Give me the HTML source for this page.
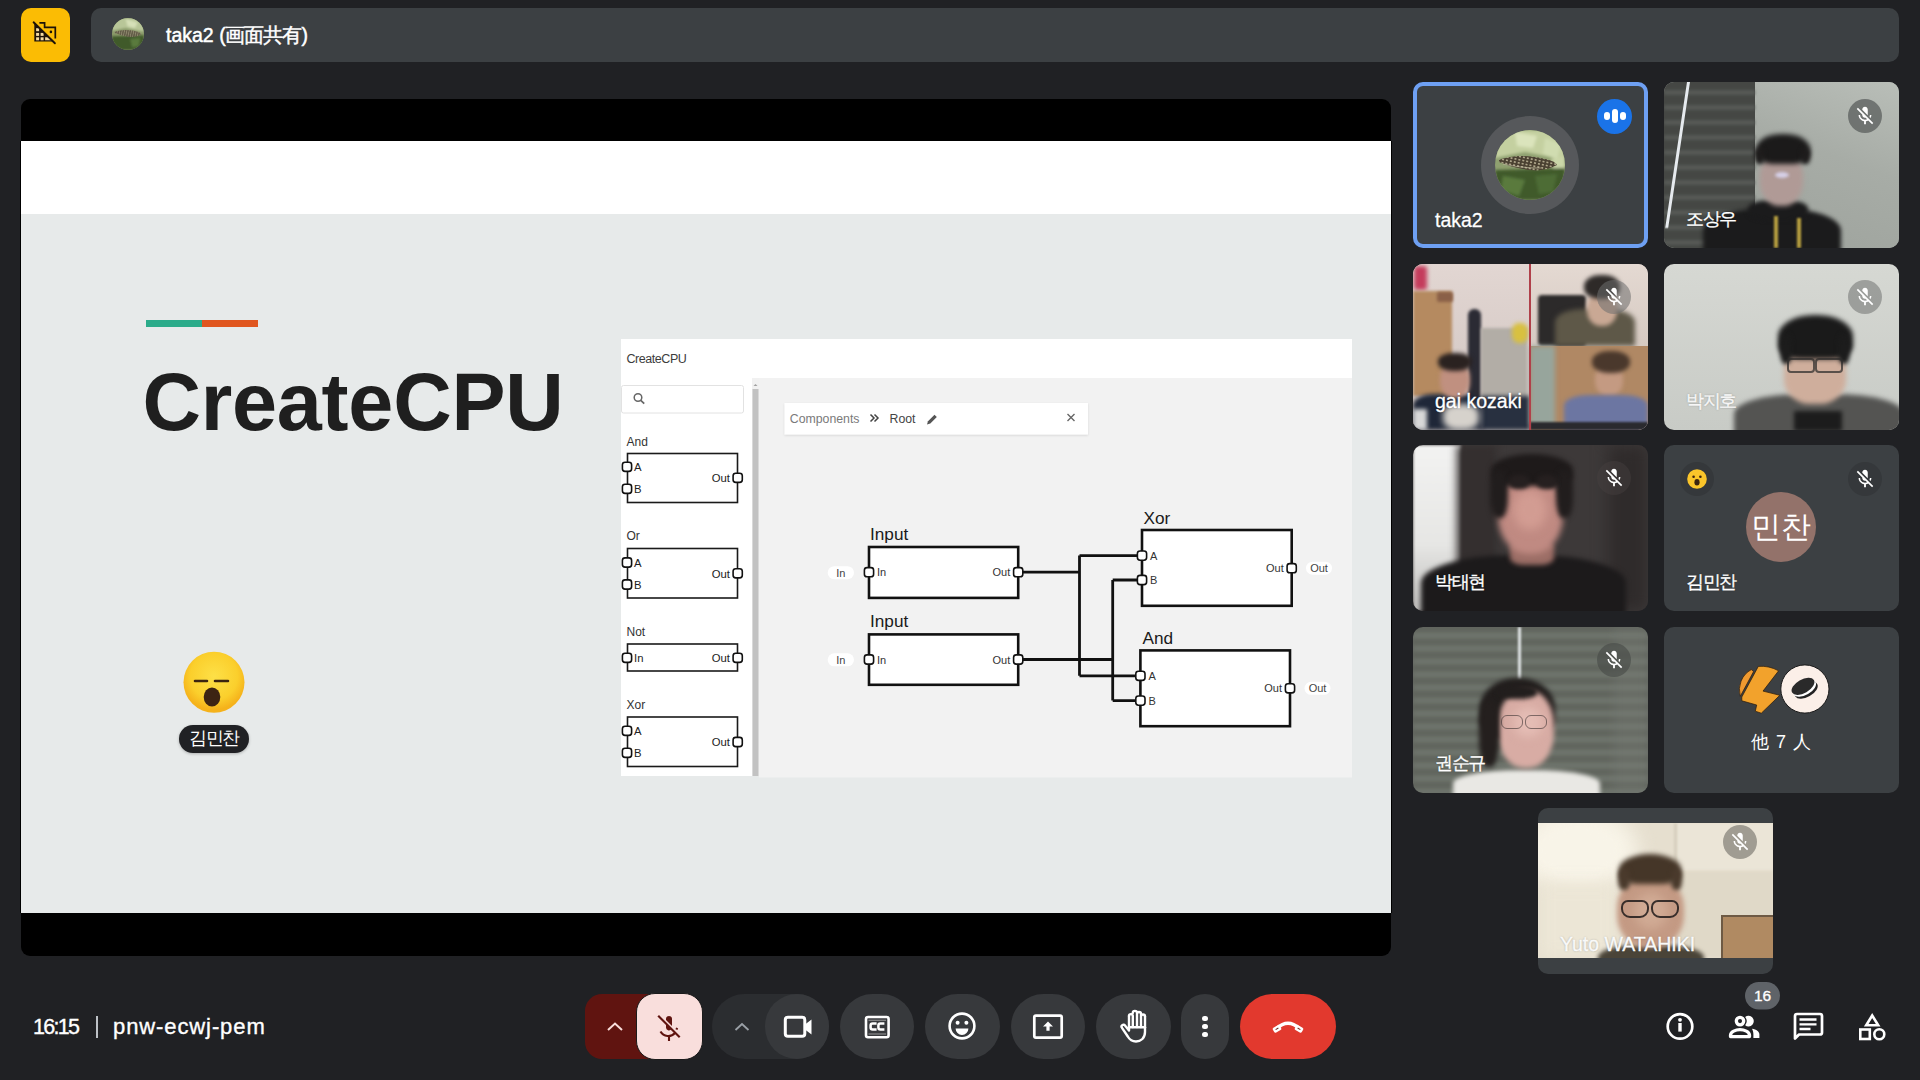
<!DOCTYPE html><html><head><meta charset="utf-8"><style>
*{margin:0;padding:0;box-sizing:border-box}
html,body{width:1920px;height:1080px;overflow:hidden;background:#202124;font-family:"Liberation Sans",sans-serif;color:#fff}
.a{position:absolute}
.tile{position:absolute;width:235px;height:166px;border-radius:10px;overflow:hidden;background:#3c4043}
.bl{position:absolute;border-radius:50%}
.nm{position:absolute;font-size:19.5px;line-height:19.5px;color:#fff;white-space:nowrap;-webkit-text-stroke:0.3px #fff;text-shadow:0 0 2px rgba(0,0,0,.35)}
.mo{position:absolute;width:34px;height:34px;border-radius:50%}
.btn{position:absolute;top:994px;height:65px;border-radius:33px;background:#3c4043}
</style></head><body>
<div class="a" style="left:21px;top:8px;width:49px;height:54px;background:#fbbc04;border-radius:10px"></div>
<svg class="a" style="left:25px;top:13px" width="40" height="40" viewBox="25 13 40 40">
<path d="M34.3 23.2L53.3 41.6H34.3z" fill="#1d1308"/>
<g fill="#f3d9a0"><rect x="36.1" y="28.2" width="3" height="3"/><rect x="36.1" y="32.9" width="3" height="3"/><rect x="40.6" y="32.9" width="3" height="3"/><rect x="36.1" y="37.3" width="3" height="3"/><rect x="40.6" y="37.3" width="3" height="3"/><path d="M45.1 37.3h3.2l3 3h-6.2z"/></g>
<path d="M39.4 22.9H44.6V27.4H55.3V38.5" fill="none" stroke="#1d1308" stroke-width="1.7"/>
<circle cx="50.9" cy="31.9" r="1.3" fill="#1d1308"/>
<path d="M34.6 22.4L36 21" stroke="#1d1308" stroke-width="0"/>
<path d="M35.6 21.6L56.6 42.6" stroke="#fbbc04" stroke-width="1.6"/>
<path d="M33.6 22.3L54.9 43.3" stroke="#1d1308" stroke-width="1.9" stroke-linecap="round"/>
</svg>
<div class="a" style="left:91px;top:8px;width:1808px;height:54px;background:#3c4043;border-radius:10px"></div>
<svg class="a" style="left:112px;top:18px" width="32" height="32" viewBox="0 0 70 70">
<defs><clipPath id="avc2"><circle cx="35" cy="35" r="35"/></clipPath>
<pattern id="spots2" width="5" height="4" patternUnits="userSpaceOnUse" patternTransform="rotate(12)"><rect width="5" height="4" fill="#5a5040"/><circle cx="2.5" cy="2" r="1.1" fill="#d8d0b0"/></pattern>
<filter id="bl3"><feGaussianBlur stdDeviation="2.5"/></filter></defs>
<g clip-path="url(#avc2)">
<rect width="70" height="70" fill="#8a9a6a"/>
<g filter="url(#bl3)">
<path d="M0 0H70V30L50 26 30 22 0 28z" fill="#b8c698"/>
<path d="M30 2L56 10 50 22 34 18z" fill="#d6e0b8"/>
<path d="M0 40L70 38V70H0z" fill="#405a2c"/>
<path d="M40 46L62 44 58 62 44 64z" fill="#5a7a3e"/>
</g>
<path d="M6 30Q22 24 42 27T64 36Q50 44 34 41T6 33z" fill="url(#spots2)" opacity=".85"/>
</g></svg>
<div class="a" style="left:166px;top:25.5px;font-size:19.5px;line-height:19px;-webkit-text-stroke:0.45px #fff;white-space:nowrap">taka2 <span style="letter-spacing:-0.8px">(画面共有)</span></div>

<div class="a" style="left:21px;top:99px;width:1370px;height:857px;border-radius:9px;overflow:hidden;background:#000">
  <div class="a" style="left:0;top:42px;width:1370px;height:73px;background:#fff"></div>
  <div class="a" style="left:0;top:115px;width:1370px;height:699px;background:#e7eaea"></div>
</div>
<div class="a" style="left:20px;top:141px;width:1px;height:772px;background:#000"></div>
<div class="a" style="left:1391px;top:141px;width:1px;height:772px;background:#000"></div>
<div class="a" style="left:146px;top:320px;width:56px;height:7px;background:#2bab8a"></div>
<div class="a" style="left:202px;top:320px;width:56px;height:7px;background:#e0561f"></div>
<div class="a" id="title" style="left:142.5px;top:362px;font-size:81px;line-height:81px;font-weight:bold;color:#1f1f1f;letter-spacing:-0.25px;white-space:nowrap">CreateCPU</div>

<svg class="a" style="left:180px;top:649px" width="68" height="68" viewBox="180 649 68 68">
<defs><radialGradient id="eg" cx="50%" cy="40%" r="55%"><stop offset="0" stop-color="#fde047"/><stop offset=".7" stop-color="#fbcf2c"/><stop offset="1" stop-color="#f5b21b"/></radialGradient></defs>
<circle cx="214" cy="682.3" r="30.5" fill="url(#eg)"/>
<path d="M195 681h12M215 681h13" stroke="#3b2410" stroke-width="2.6" stroke-linecap="round"/>
<ellipse cx="212" cy="697" rx="8.3" ry="9.5" fill="#3d2413"/>
</svg>
<div class="a" style="left:179px;top:725px;width:70px;height:28px;border-radius:14px;background:#202124;box-shadow:0 1px 3px rgba(0,0,0,.25)"></div>
<div class="a" style="left:179px;top:729px;width:70px;text-align:center;font-size:17px;line-height:19px;color:#fff;font-size:17.5px;letter-spacing:-1.4px">김민찬</div>

<svg class="a" style="left:600px;top:330px" width="780" height="460" viewBox="600 330 780 460" font-family="Liberation Sans, sans-serif">
<defs><filter id="sh" x="-5%" y="-30%" width="110%" height="160%"><feDropShadow dx="0" dy="1" stdDeviation="1.2" flood-color="#000" flood-opacity=".12"/></filter></defs>
<rect x="621" y="339" width="731" height="39" fill="#fff"/>
<text x="626.5" y="363" font-size="12.5" fill="#3c3c3c" letter-spacing="-0.45">CreateCPU</text>
<rect x="621" y="378" width="131" height="398" fill="#fff"/>
<rect x="752" y="378" width="7" height="398" fill="#f1f1f1"/>
<rect x="752.5" y="389" width="6" height="387" fill="#c2c2c2"/>
<path d="M753.5 386l2-2 2 2z" fill="#a0a0a0"/>
<rect x="759" y="378" width="593" height="399.5" fill="#f2f2f2"/>
<rect x="621.5" y="385.5" width="122" height="27.5" rx="2" fill="#fff" stroke="#e2e2e2"/>
<circle cx="638" cy="397.5" r="3.8" fill="none" stroke="#666" stroke-width="1.5"/><path d="M640.8 400.3l3.4 3.4" stroke="#666" stroke-width="1.7"/>
<text x="626.5" y="445.5" font-size="12" fill="#333">And</text>
<rect x="627.5" y="453.5" width="110" height="49.0" fill="#fff" stroke="#1a1a1a" stroke-width="1.6"/>
<rect x="622.4" y="462.2" width="9.2" height="9.2" rx="2.6" fill="#fff" stroke="#111" stroke-width="1.6"/>
<text x="634" y="471.1" font-size="11.3" fill="#222">A</text>
<rect x="622.4" y="484.2" width="9.2" height="9.2" rx="2.6" fill="#fff" stroke="#111" stroke-width="1.6"/>
<text x="634" y="493.1" font-size="11.3" fill="#222">B</text>
<rect x="733.1" y="473.2" width="9.2" height="9.2" rx="2.6" fill="#fff" stroke="#111" stroke-width="1.6"/>
<text x="730" y="482.1" font-size="11.3" fill="#222" text-anchor="end">Out</text>
<text x="626.5" y="540.3" font-size="12" fill="#333">Or</text>
<rect x="627.5" y="548.5" width="110" height="49.5" fill="#fff" stroke="#1a1a1a" stroke-width="1.6"/>
<rect x="622.4" y="557.9" width="9.2" height="9.2" rx="2.6" fill="#fff" stroke="#111" stroke-width="1.6"/>
<text x="634" y="566.8" font-size="11.3" fill="#222">A</text>
<rect x="622.4" y="579.9" width="9.2" height="9.2" rx="2.6" fill="#fff" stroke="#111" stroke-width="1.6"/>
<text x="634" y="588.8" font-size="11.3" fill="#222">B</text>
<rect x="733.1" y="568.7" width="9.2" height="9.2" rx="2.6" fill="#fff" stroke="#111" stroke-width="1.6"/>
<text x="730" y="577.6" font-size="11.3" fill="#222" text-anchor="end">Out</text>
<text x="626.5" y="635.7" font-size="12" fill="#333">Not</text>
<rect x="627.5" y="644" width="110" height="27" fill="#fff" stroke="#1a1a1a" stroke-width="1.6"/>
<rect x="622.4" y="653.2" width="9.2" height="9.2" rx="2.6" fill="#fff" stroke="#111" stroke-width="1.6"/>
<text x="634" y="662.1" font-size="11.3" fill="#222">In</text>
<rect x="733.1" y="653.2" width="9.2" height="9.2" rx="2.6" fill="#fff" stroke="#111" stroke-width="1.6"/>
<text x="730" y="662.1" font-size="11.3" fill="#222" text-anchor="end">Out</text>
<text x="626.5" y="709" font-size="12" fill="#333">Xor</text>
<rect x="627.5" y="717" width="110" height="49.5" fill="#fff" stroke="#1a1a1a" stroke-width="1.6"/>
<rect x="622.4" y="726.2" width="9.2" height="9.2" rx="2.6" fill="#fff" stroke="#111" stroke-width="1.6"/>
<text x="634" y="735.1" font-size="11.3" fill="#222">A</text>
<rect x="622.4" y="748.2" width="9.2" height="9.2" rx="2.6" fill="#fff" stroke="#111" stroke-width="1.6"/>
<text x="634" y="757.1" font-size="11.3" fill="#222">B</text>
<rect x="733.1" y="737.4" width="9.2" height="9.2" rx="2.6" fill="#fff" stroke="#111" stroke-width="1.6"/>
<text x="730" y="746.3" font-size="11.3" fill="#222" text-anchor="end">Out</text>
<rect x="784.5" y="403" width="303.5" height="31.5" fill="#fff" filter="url(#sh)"/>
<text x="789.8" y="423.3" font-size="12.3" fill="#7a7a7a">Components</text>
<path d="M870.5 414.5l3.5 3.5-3.5 3.5M874.5 414.5l3.5 3.5-3.5 3.5" stroke="#444" stroke-width="1.5" fill="none"/>
<text x="889.5" y="423.3" font-size="12.3" fill="#444">Root</text>
<path d="M927 424.5l1-3.3 6.5-6.5 2.3 2.3-6.5 6.5z" fill="#555"/>
<path d="M1067.5 414l7 7M1074.5 414l-7 7" stroke="#666" stroke-width="1.4"/>
<path d="M1018 572.2H1079.5M1079.5 555.6V675.8M1079.5 555.6H1142M1079.5 675.8H1140.4" stroke="#111" stroke-width="2.8" fill="none"/>
<path d="M1018 659.5H1112.7M1112.7 580V700.6M1112.7 580H1142M1112.7 700.6H1140.4" stroke="#111" stroke-width="2.8" fill="none"/>
<rect x="827.7" y="566.2" width="26.299999999999955" height="13" rx="6.5" fill="#fff"/>
<text x="840.85" y="576.7" font-size="11" fill="#444" text-anchor="middle">In</text>
<rect x="827.7" y="653.3" width="26.299999999999955" height="13" rx="6.5" fill="#fff"/>
<text x="840.85" y="663.8" font-size="11" fill="#444" text-anchor="middle">In</text>
<text x="870" y="540.2" font-size="17.2" fill="#1a1a1a">Input</text>
<rect x="869" y="547" width="149.20000000000005" height="50.89999999999998" fill="#fff" stroke="#111" stroke-width="2.6"/>
<rect x="864.4" y="567.6" width="9.2" height="9.2" rx="2.6" fill="#fff" stroke="#111" stroke-width="1.6"/>
<text x="877" y="576.2" font-size="11" fill="#333">In</text>
<rect x="1013.6" y="567.6" width="9.2" height="9.2" rx="2.6" fill="#fff" stroke="#111" stroke-width="1.6"/>
<text x="1010.2" y="576.2" font-size="11" fill="#333" text-anchor="end">Out</text>
<text x="870" y="627" font-size="17.2" fill="#1a1a1a">Input</text>
<rect x="869" y="634.4" width="149.20000000000005" height="50.39999999999998" fill="#fff" stroke="#111" stroke-width="2.6"/>
<rect x="864.4" y="654.9" width="9.2" height="9.2" rx="2.6" fill="#fff" stroke="#111" stroke-width="1.6"/>
<text x="877" y="663.5" font-size="11" fill="#333">In</text>
<rect x="1013.6" y="654.9" width="9.2" height="9.2" rx="2.6" fill="#fff" stroke="#111" stroke-width="1.6"/>
<text x="1010.2" y="663.5" font-size="11" fill="#333" text-anchor="end">Out</text>
<text x="1143.5" y="523.5" font-size="17.2" fill="#1a1a1a">Xor</text>
<rect x="1142" y="530" width="149.70000000000005" height="75.79999999999995" fill="#fff" stroke="#111" stroke-width="2.6"/>
<rect x="1137.4" y="551.0" width="9.2" height="9.2" rx="2.6" fill="#fff" stroke="#111" stroke-width="1.6"/>
<text x="1150" y="559.6" font-size="11" fill="#333">A</text>
<rect x="1137.4" y="575.4" width="9.2" height="9.2" rx="2.6" fill="#fff" stroke="#111" stroke-width="1.6"/>
<text x="1150" y="584" font-size="11" fill="#333">B</text>
<rect x="1287.1" y="563.6" width="9.2" height="9.2" rx="2.6" fill="#fff" stroke="#111" stroke-width="1.6"/>
<text x="1283.7" y="572.2" font-size="11" fill="#333" text-anchor="end">Out</text>
<text x="1142.5" y="643.7" font-size="17.2" fill="#1a1a1a">And</text>
<rect x="1140.4" y="650.4" width="149.5999999999999" height="75.80000000000007" fill="#fff" stroke="#111" stroke-width="2.6"/>
<rect x="1135.8" y="671.2" width="9.2" height="9.2" rx="2.6" fill="#fff" stroke="#111" stroke-width="1.6"/>
<text x="1148.4" y="679.8" font-size="11" fill="#333">A</text>
<rect x="1135.8" y="696.0" width="9.2" height="9.2" rx="2.6" fill="#fff" stroke="#111" stroke-width="1.6"/>
<text x="1148.4" y="704.6" font-size="11" fill="#333">B</text>
<rect x="1285.4" y="683.7" width="9.2" height="9.2" rx="2.6" fill="#fff" stroke="#111" stroke-width="1.6"/>
<text x="1282" y="692.3" font-size="11" fill="#333" text-anchor="end">Out</text>
<rect x="1306" y="561.7" width="26" height="13" rx="6.5" fill="#fff"/>
<text x="1319.0" y="572.2" font-size="11" fill="#444" text-anchor="middle">Out</text>
<rect x="1304.5" y="681.8" width="26.0" height="13" rx="6.5" fill="#fff"/>
<text x="1317.5" y="692.3" font-size="11" fill="#444" text-anchor="middle">Out</text>
</svg>
<div class="tile" style="left:1413px;top:82px;border:4px solid #6ea0f3;"></div>
<div class="a" style="left:1481px;top:116px;width:98px;height:98px;border-radius:50%;background:#56585b"></div>
<svg class="a" style="left:1495px;top:130px" width="70" height="70" viewBox="0 0 70 70">
<defs><clipPath id="avc"><circle cx="35" cy="35" r="35"/></clipPath>
<pattern id="spots" width="4" height="3.2" patternUnits="userSpaceOnUse" patternTransform="rotate(12)"><rect width="4" height="3.2" fill="#4a4030"/><circle cx="2" cy="1.6" r="0.9" fill="#d8d0b0"/></pattern>
<filter id="bl1"><feGaussianBlur stdDeviation="1.6"/></filter><filter id="bl2"><feGaussianBlur stdDeviation=".5"/></filter></defs>
<g clip-path="url(#avc)">
<rect width="70" height="70" fill="#8fa070"/>
<g filter="url(#bl1)">
<path d="M0 0H70V30L50 26 30 22 0 28z" fill="#c4d0a0"/>
<path d="M20 2L42 6 38 18 22 16z" fill="#dbe4bc"/>
<path d="M50 8L66 14 62 30 48 24z" fill="#d0dcb0"/>
<path d="M55 30L70 26V44L60 42z" fill="#cad6a8"/>
<path d="M0 40L70 38V70H0z" fill="#3f5a2c"/>
<path d="M8 46L30 50 24 66 6 60z" fill="#5a7a3e"/>
<path d="M40 46L62 44 58 62 44 64z" fill="#4d6c34"/>
</g>
<g filter="url(#bl2)">
<path d="M4 30Q20 24 40 27T62 35Q50 42 34 40T4 32z" fill="url(#spots)"/>
<path d="M8 34Q26 38 46 38" stroke="#c8c4a8" stroke-width="1.2" fill="none" opacity=".6"/>
</g>
</g></svg>
<div class="a" style="left:1597px;top:99px;width:35px;height:35px;border-radius:50%;background:#1a73e8"></div>
<div class="a" style="left:1604px;top:112px;width:6px;height:8px;border-radius:3px;background:#fff"></div>
<div class="a" style="left:1612px;top:109px;width:6px;height:14px;border-radius:3px;background:#fff"></div>
<div class="a" style="left:1620px;top:112px;width:6px;height:8px;border-radius:3px;background:#fff"></div>
<div class="nm" style="left:1435px;top:210.7px">taka2</div>
<div class="tile" style="left:1664px;top:82px;background:#a6aba5"><div class="a" style="left:0px;top:0px;width:91px;height:166px;background:#454744;border-radius:0;"></div><div class="a" style="left:91px;top:0px;width:144px;height:166px;background:linear-gradient(200deg,#b9beb8 0%,#a7aca6 45%,#9ea39d 100%);border-radius:0;"></div><div class="a" style="left:0px;top:8px;width:91px;height:5px;background:rgba(92,96,92,.75);border-radius:0;filter:blur(1.5px);"></div><div class="a" style="left:0px;top:23px;width:91px;height:5px;background:rgba(92,96,92,.75);border-radius:0;filter:blur(1.5px);"></div><div class="a" style="left:0px;top:38px;width:91px;height:5px;background:rgba(92,96,92,.75);border-radius:0;filter:blur(1.5px);"></div><div class="a" style="left:0px;top:53px;width:91px;height:5px;background:rgba(92,96,92,.75);border-radius:0;filter:blur(1.5px);"></div><div class="a" style="left:0px;top:68px;width:91px;height:5px;background:rgba(92,96,92,.75);border-radius:0;filter:blur(1.5px);"></div><div class="a" style="left:0px;top:83px;width:91px;height:5px;background:rgba(92,96,92,.75);border-radius:0;filter:blur(1.5px);"></div><div class="a" style="left:0px;top:98px;width:91px;height:5px;background:rgba(92,96,92,.75);border-radius:0;filter:blur(1.5px);"></div><div class="a" style="left:0px;top:113px;width:91px;height:5px;background:rgba(92,96,92,.75);border-radius:0;filter:blur(1.5px);"></div><div class="a" style="left:0px;top:128px;width:91px;height:5px;background:rgba(92,96,92,.75);border-radius:0;filter:blur(1.5px);"></div><div class="a" style="left:0px;top:143px;width:91px;height:5px;background:rgba(92,96,92,.75);border-radius:0;filter:blur(1.5px);"></div><div class="a" style="left:0px;top:158px;width:91px;height:5px;background:rgba(92,96,92,.75);border-radius:0;filter:blur(1.5px);"></div><div class="a" style="left:23px;top:0;width:2.5px;height:146px;background:#e6eaee;transform:skewX(-8.5deg);transform-origin:top left;filter:blur(.4px)"></div><div class="a" style="left:39px;top:126px;width:138px;height:50px;background:#1b1b1c;border-radius:45% 45% 0 0;filter:blur(2px);"></div><div class="a" style="left:84px;top:118px;width:60px;height:20px;background:#1b1b1c;border-radius:40%;filter:blur(2px);"></div><div class="a" style="left:96px;top:70px;width:43px;height:54px;background:#b09a96;border-radius:45%;filter:blur(2.5px);"></div><div class="a" style="left:92px;top:52px;width:54px;height:30px;background:#1b1a1a;border-radius:48% 48% 35% 35%;filter:blur(2.5px);"></div><div class="a" style="left:91px;top:66px;width:9px;height:16px;background:#1e1c1c;border-radius:40%;filter:blur(2px);"></div><div class="a" style="left:137px;top:66px;width:9px;height:16px;background:#1e1c1c;border-radius:40%;filter:blur(2px);"></div><div class="a" style="left:111px;top:90px;width:14px;height:6px;background:#d6d0e8;border-radius:50%;filter:blur(1.5px);"></div><div class="a" style="left:110px;top:134px;width:4px;height:32px;background:#b8a040;border-radius:0;filter:blur(1px);"></div><div class="a" style="left:133px;top:136px;width:4px;height:30px;background:#b8a040;border-radius:0;filter:blur(1px);"></div></div>
<div class="nm" style="left:1686px;top:209.7px;color:#fff;font-size:17.5px;letter-spacing:-1.4px">조상우</div>
<div class="mo" style="left:1848px;top:99px;background:rgba(90,94,92,.75)"></div><svg class="a" style="left:1854px;top:105px" width="22" height="22" viewBox="0 0 24 24"><path fill="#fff" d="M19 11h-1.7c0 .74-.16 1.43-.43 2.05l1.23 1.23c.56-.98.9-2.09.9-3.28zm-4.02.17c0-.06.02-.11.02-.17V5c0-1.66-1.34-3-3-3S9 3.34 9 5v.18l5.98 5.99zM4.27 3L3 4.27l6.01 6.01V11c0 1.66 1.33 3 2.99 3 .22 0 .44-.03.65-.08l1.66 1.66c-.71.33-1.5.52-2.31.52-2.76 0-5.3-2.1-5.3-5.1H5c0 3.41 2.72 6.23 6 6.72V21h2v-3.28c.91-.13 1.77-.45 2.54-.9L19.73 21 21 19.73 4.27 3z"/></svg>
<div class="tile" style="left:1413px;top:264px;background:#d8ccc6"><div class="a" style="left:0px;top:0px;width:117px;height:166px;background:linear-gradient(180deg,#e2d6d2,#cfc4c0);border-radius:0;"></div><div class="a" style="left:1px;top:2px;width:13px;height:24px;background:#c43c5c;border-radius:3px;filter:blur(2px);"></div><div class="a" style="left:0px;top:27px;width:39px;height:105px;background:#b58a60;border-radius:0;filter:blur(1.5px);"></div><div class="a" style="left:24px;top:28px;width:16px;height:10px;background:#8a6048;border-radius:2px;filter:blur(1.5px);"></div><div class="a" style="left:55px;top:45px;width:13px;height:95px;background:#2b2b34;border-radius:6px;filter:blur(1.5px);"></div><div class="a" style="left:68px;top:64px;width:46px;height:70px;background:#b2ada6;border-radius:0;filter:blur(1.5px);"></div><div class="a" style="left:99px;top:59px;width:16px;height:20px;background:#d8c040;border-radius:40%;filter:blur(2px);"></div><div class="a" style="left:68px;top:132px;width:49px;height:34px;background:#283040;border-radius:0;filter:blur(2px);"></div><div class="a" style="left:0px;top:130px;width:70px;height:36px;background:#1f2738;border-radius:30% 30% 0 0;filter:blur(2px);"></div><div class="a" style="left:27px;top:98px;width:30px;height:36px;background:#c09080;border-radius:45%;filter:blur(2px);"></div><div class="a" style="left:25px;top:89px;width:34px;height:18px;background:#2a2220;border-radius:45%;filter:blur(2px);"></div><div class="a" style="left:0px;top:145px;width:14px;height:21px;background:#d8d8d8;border-radius:0;filter:blur(2px);"></div><div class="a" style="left:30px;top:140px;width:36px;height:26px;background:#d6d2cc;border-radius:40%;filter:blur(3px);"></div><div class="a" style="left:117px;top:0px;width:118px;height:82px;background:linear-gradient(180deg,#e4d9d2,#d6cac2);border-radius:0;"></div><div class="a" style="left:125px;top:31px;width:48px;height:51px;background:#2c2a2a;border-radius:4px;filter:blur(1.5px);"></div><div class="a" style="left:142px;top:45px;width:80px;height:37px;background:#5e5848;border-radius:35% 35% 0 0;filter:blur(2.5px);"></div><div class="a" style="left:174px;top:28px;width:30px;height:34px;background:#c9a894;border-radius:45%;filter:blur(2px);"></div><div class="a" style="left:171px;top:11px;width:36px;height:24px;background:#2e2a28;border-radius:45%;filter:blur(2px);"></div><div class="a" style="left:117px;top:82px;width:118px;height:84px;background:#b08864;border-radius:0;"></div><div class="a" style="left:117px;top:82px;width:25px;height:80px;background:#97a59c;border-radius:0;filter:blur(2.5px);"></div><div class="a" style="left:182px;top:100px;width:28px;height:32px;background:#c49a82;border-radius:45%;filter:blur(2px);"></div><div class="a" style="left:179px;top:87px;width:38px;height:22px;background:#4a382c;border-radius:45%;filter:blur(2px);"></div><div class="a" style="left:151px;top:131px;width:84px;height:35px;background:#6c76a2;border-radius:30% 30% 0 0;filter:blur(2px);"></div><div class="a" style="left:117px;top:158px;width:118px;height:8px;background:#2a2a2e;border-radius:0;filter:blur(1px);"></div><div class="a" style="left:115.5px;top:0px;width:2px;height:166px;background:#b0404a;border-radius:0;"></div></div>
<div class="nm" style="left:1435px;top:391.7px">gai kozaki</div>
<div class="mo" style="left:1597px;top:280px;background:rgba(110,110,110,.55)"></div><svg class="a" style="left:1603px;top:286px" width="22" height="22" viewBox="0 0 24 24"><path fill="#fff" d="M19 11h-1.7c0 .74-.16 1.43-.43 2.05l1.23 1.23c.56-.98.9-2.09.9-3.28zm-4.02.17c0-.06.02-.11.02-.17V5c0-1.66-1.34-3-3-3S9 3.34 9 5v.18l5.98 5.99zM4.27 3L3 4.27l6.01 6.01V11c0 1.66 1.33 3 2.99 3 .22 0 .44-.03.65-.08l1.66 1.66c-.71.33-1.5.52-2.31.52-2.76 0-5.3-2.1-5.3-5.1H5c0 3.41 2.72 6.23 6 6.72V21h2v-3.28c.91-.13 1.77-.45 2.54-.9L19.73 21 21 19.73 4.27 3z"/></svg>
<div class="tile" style="left:1664px;top:264px;background:linear-gradient(180deg,#d6d8d3,#c8cbc6)"><div class="a" style="left:70px;top:130px;width:170px;height:50px;background:#545452;border-radius:40% 40% 0 0;filter:blur(2.5px);"></div><div class="a" style="left:130px;top:147px;width:48px;height:20px;background:#1c1c1c;border-radius:0;filter:blur(2px);"></div><div class="a" style="left:120px;top:82px;width:62px;height:58px;background:#cfae9c;border-radius:42%;filter:blur(2.5px);"></div><div class="a" style="left:114px;top:51px;width:75px;height:44px;background:#1a1a1a;border-radius:48% 48% 30% 30%;filter:blur(2.5px);"></div><div class="a" style="left:116px;top:70px;width:12px;height:30px;background:#1c1c1c;border-radius:40%;filter:blur(2px);"></div><div class="a" style="left:174px;top:70px;width:12px;height:30px;background:#1c1c1c;border-radius:40%;filter:blur(2px);"></div><div class="a" style="left:123px;top:94px;width:28px;height:15px;border:2px solid rgba(40,40,40,.7);border-radius:4px;filter:blur(.4px)"></div><div class="a" style="left:151px;top:94px;width:28px;height:15px;border:2px solid rgba(40,40,40,.7);border-radius:4px;filter:blur(.4px)"></div></div>
<div class="nm" style="left:1686px;top:391.7px;color:#f4f4f4;font-size:17.5px;letter-spacing:-1.4px">박지호</div>
<div class="mo" style="left:1848px;top:280px;background:rgba(120,122,120,.6)"></div><svg class="a" style="left:1854px;top:286px" width="22" height="22" viewBox="0 0 24 24"><path fill="#fff" d="M19 11h-1.7c0 .74-.16 1.43-.43 2.05l1.23 1.23c.56-.98.9-2.09.9-3.28zm-4.02.17c0-.06.02-.11.02-.17V5c0-1.66-1.34-3-3-3S9 3.34 9 5v.18l5.98 5.99zM4.27 3L3 4.27l6.01 6.01V11c0 1.66 1.33 3 2.99 3 .22 0 .44-.03.65-.08l1.66 1.66c-.71.33-1.5.52-2.31.52-2.76 0-5.3-2.1-5.3-5.1H5c0 3.41 2.72 6.23 6 6.72V21h2v-3.28c.91-.13 1.77-.45 2.54-.9L19.73 21 21 19.73 4.27 3z"/></svg>
<div class="tile" style="left:1413px;top:445px;background:#3d3939"><div class="a" style="left:0px;top:0px;width:48px;height:166px;background:linear-gradient(180deg,#f2f2f1 0%,#e6e6e4 60%,#bdbcba 100%);border-radius:0;filter:blur(1.5px);"></div><div class="a" style="left:44px;top:0px;width:40px;height:166px;background:#342f2f;border-radius:0;filter:blur(4px);"></div><div class="a" style="left:195px;top:0px;width:40px;height:166px;background:#2f2b2b;border-radius:0;filter:blur(8px);"></div><div class="a" style="left:8px;top:110px;width:205px;height:62px;background:#1c1a1b;border-radius:45% 45% 0 0;filter:blur(2.5px);"></div><div class="a" style="left:97px;top:95px;width:44px;height:25px;background:#9c6e66;border-radius:30%;filter:blur(2.5px);"></div><div class="a" style="left:85px;top:27px;width:65px;height:82px;background:#c08a82;border-radius:46%;filter:blur(3px);"></div><div class="a" style="left:100px;top:45px;width:34px;height:40px;background:#d29c92;border-radius:50%;filter:blur(5px);"></div><div class="a" style="left:78px;top:9px;width:82px;height:32px;background:#1e1a1a;border-radius:50% 50% 30% 30%;filter:blur(2.5px);"></div><div class="a" style="left:77px;top:25px;width:18px;height:48px;background:#211d1d;border-radius:40%;filter:blur(2.5px);"></div><div class="a" style="left:143px;top:25px;width:17px;height:48px;background:#211d1d;border-radius:40%;filter:blur(2.5px);"></div><div class="a" style="left:96px;top:30px;width:20px;height:14px;background:#262020;border-radius:40%;filter:blur(2px);"></div><div class="a" style="left:124px;top:30px;width:20px;height:14px;background:#262020;border-radius:40%;filter:blur(2px);"></div></div>
<div class="nm" style="left:1435px;top:572.7px;font-size:17.5px;letter-spacing:-1.4px">박태현</div>
<div class="mo" style="left:1597px;top:461px;background:rgba(70,64,64,.45)"></div><svg class="a" style="left:1603px;top:467px" width="22" height="22" viewBox="0 0 24 24"><path fill="#fff" d="M19 11h-1.7c0 .74-.16 1.43-.43 2.05l1.23 1.23c.56-.98.9-2.09.9-3.28zm-4.02.17c0-.06.02-.11.02-.17V5c0-1.66-1.34-3-3-3S9 3.34 9 5v.18l5.98 5.99zM4.27 3L3 4.27l6.01 6.01V11c0 1.66 1.33 3 2.99 3 .22 0 .44-.03.65-.08l1.66 1.66c-.71.33-1.5.52-2.31.52-2.76 0-5.3-2.1-5.3-5.1H5c0 3.41 2.72 6.23 6 6.72V21h2v-3.28c.91-.13 1.77-.45 2.54-.9L19.73 21 21 19.73 4.27 3z"/></svg>
<div class="tile" style="left:1664px;top:445px;"></div>
<div class="a" style="left:1746px;top:492px;width:70px;height:70px;border-radius:50%;background:#93726a"></div>
<div class="a" style="left:1746px;top:511px;width:70px;text-align:center;font-size:30px;line-height:32px;color:#fff">민찬</div>
<div class="a" style="left:1680px;top:462px;width:34px;height:34px;border-radius:50%;background:#35383b"></div>
<svg class="a" style="left:1686px;top:468px" width="22" height="22" viewBox="0 0 22 22">
<circle cx="11" cy="11" r="9.8" fill="#fbc52a"/><circle cx="7.6" cy="8.8" r="1.3" fill="#3b2410"/><circle cx="14.4" cy="8.8" r="1.3" fill="#3b2410"/><ellipse cx="11" cy="14.2" rx="2.6" ry="3.2" fill="#3b2410"/></svg>
<div class="mo" style="left:1848px;top:462px;background:#35383b"></div><svg class="a" style="left:1854px;top:468px" width="22" height="22" viewBox="0 0 24 24"><path fill="#fff" d="M19 11h-1.7c0 .74-.16 1.43-.43 2.05l1.23 1.23c.56-.98.9-2.09.9-3.28zm-4.02.17c0-.06.02-.11.02-.17V5c0-1.66-1.34-3-3-3S9 3.34 9 5v.18l5.98 5.99zM4.27 3L3 4.27l6.01 6.01V11c0 1.66 1.33 3 2.99 3 .22 0 .44-.03.65-.08l1.66 1.66c-.71.33-1.5.52-2.31.52-2.76 0-5.3-2.1-5.3-5.1H5c0 3.41 2.72 6.23 6 6.72V21h2v-3.28c.91-.13 1.77-.45 2.54-.9L19.73 21 21 19.73 4.27 3z"/></svg>
<div class="nm" style="left:1686px;top:572.7px;font-size:17.5px;letter-spacing:-1.4px">김민찬</div>
<div class="tile" style="left:1413px;top:627px;background:#61655e"><div class="a" style="left:0px;top:6px;width:235px;height:5px;background:rgba(128,134,126,.55);border-radius:0;filter:blur(2px);"></div><div class="a" style="left:0px;top:19px;width:235px;height:5px;background:rgba(128,134,126,.55);border-radius:0;filter:blur(2px);"></div><div class="a" style="left:0px;top:32px;width:235px;height:5px;background:rgba(128,134,126,.55);border-radius:0;filter:blur(2px);"></div><div class="a" style="left:0px;top:45px;width:235px;height:5px;background:rgba(128,134,126,.55);border-radius:0;filter:blur(2px);"></div><div class="a" style="left:0px;top:58px;width:235px;height:5px;background:rgba(128,134,126,.55);border-radius:0;filter:blur(2px);"></div><div class="a" style="left:0px;top:71px;width:235px;height:5px;background:rgba(128,134,126,.55);border-radius:0;filter:blur(2px);"></div><div class="a" style="left:0px;top:84px;width:235px;height:5px;background:rgba(128,134,126,.55);border-radius:0;filter:blur(2px);"></div><div class="a" style="left:0px;top:97px;width:235px;height:5px;background:rgba(128,134,126,.55);border-radius:0;filter:blur(2px);"></div><div class="a" style="left:0px;top:110px;width:235px;height:5px;background:rgba(128,134,126,.55);border-radius:0;filter:blur(2px);"></div><div class="a" style="left:0px;top:123px;width:235px;height:5px;background:rgba(128,134,126,.55);border-radius:0;filter:blur(2px);"></div><div class="a" style="left:0px;top:136px;width:235px;height:5px;background:rgba(128,134,126,.55);border-radius:0;filter:blur(2px);"></div><div class="a" style="left:0px;top:149px;width:235px;height:5px;background:rgba(128,134,126,.55);border-radius:0;filter:blur(2px);"></div><div class="a" style="left:0px;top:162px;width:235px;height:5px;background:rgba(128,134,126,.55);border-radius:0;filter:blur(2px);"></div><div class="a" style="left:200px;top:0px;width:35px;height:166px;background:rgba(120,124,118,.35);border-radius:0;filter:blur(5px);"></div><div class="a" style="left:104.5px;top:0px;width:3.5px;height:52px;background:#e2e6e8;border-radius:0;filter:blur(0.8px);"></div><div class="a" style="left:40px;top:143px;width:147px;height:30px;background:#e9e8e4;border-radius:45% 45% 0 0;filter:blur(2px);"></div><div class="a" style="left:67px;top:51px;width:75px;height:62px;background:#221e1d;border-radius:48% 48% 35% 35%;filter:blur(2.5px);"></div><div class="a" style="left:85px;top:63px;width:56px;height:78px;background:#d8aca4;border-radius:45%;filter:blur(2.5px);"></div><div class="a" style="left:100px;top:80px;width:30px;height:30px;background:#e4bcb4;border-radius:50%;filter:blur(5px);"></div><div class="a" style="left:66px;top:72px;width:20px;height:68px;background:#241f1e;border-radius:40%;filter:blur(2.5px);"></div><div class="a" style="left:84px;top:58px;width:40px;height:14px;background:#221e1d;border-radius:40%;filter:blur(2px);"></div><div class="a" style="left:88px;top:88px;width:22px;height:14px;border:1.3px solid rgba(60,50,50,.6);border-radius:6px"></div><div class="a" style="left:112px;top:88px;width:22px;height:14px;border:1.3px solid rgba(60,50,50,.6);border-radius:6px"></div></div>
<div class="nm" style="left:1435px;top:753.7px;font-size:17.5px;letter-spacing:-1.4px">권순규</div>
<div class="mo" style="left:1597px;top:643px;background:rgba(70,74,70,.6)"></div><svg class="a" style="left:1603px;top:649px" width="22" height="22" viewBox="0 0 24 24"><path fill="#fff" d="M19 11h-1.7c0 .74-.16 1.43-.43 2.05l1.23 1.23c.56-.98.9-2.09.9-3.28zm-4.02.17c0-.06.02-.11.02-.17V5c0-1.66-1.34-3-3-3S9 3.34 9 5v.18l5.98 5.99zM4.27 3L3 4.27l6.01 6.01V11c0 1.66 1.33 3 2.99 3 .22 0 .44-.03.65-.08l1.66 1.66c-.71.33-1.5.52-2.31.52-2.76 0-5.3-2.1-5.3-5.1H5c0 3.41 2.72 6.23 6 6.72V21h2v-3.28c.91-.13 1.77-.45 2.54-.9L19.73 21 21 19.73 4.27 3z"/></svg>
<div class="tile" style="left:1664px;top:627px;"></div>
<svg class="a" style="left:1730px;top:655px" width="105" height="65" viewBox="1730 655 105 65">
<path d="M1758.3 666.4Q1769 665.5 1778.6 670.8L1763 691.1 1779.8 695.3 1761.3 713.2 1755.3 711.2 1756.7 705 1741.8 700.8 1741.8 697z" fill="#f2a22c" stroke="#2a1a0a" stroke-width=".7"/>
<path d="M1751.3 669.6A23 23 0 0 0 1740.3 696.3L1753.6 671.5z" fill="#f09a30" stroke="#2a1a0a" stroke-width=".7"/>
<circle cx="1804.9" cy="689" r="24.1" fill="#fbefe8" stroke="#1a1a1a" stroke-width="1"/>
<ellipse cx="1806.3" cy="690.2" rx="12.6" ry="6.8" transform="rotate(-30 1806.3 690.2)" fill="#222"/>
<ellipse cx="1804.6" cy="688.2" rx="12.6" ry="6.8" transform="rotate(-30 1804.6 688.2)" fill="#fff"/>
<ellipse cx="1803" cy="686.3" rx="12.6" ry="6.8" transform="rotate(-30 1803 686.3)" fill="#2a2a2a"/>
</svg>
<div class="a" style="left:1664px;top:732px;width:235px;text-align:center;font-size:18px;line-height:20px;color:#fff;letter-spacing:1px">他 7 人</div>
<div class="tile" style="left:1538px;top:808px;"></div>
<div class="a" style="left:1538px;top:823px;width:235px;height:135px;overflow:hidden;background:#e6dfcf"><div class="a" style="left:-20px;top:-15px;width:120px;height:85px;background:#f8f4e8;border-radius:50%;filter:blur(10px);"></div><div class="a" style="left:0px;top:60px;width:80px;height:75px;background:#ece6d6;border-radius:0;filter:blur(8px);"></div><div class="a" style="left:138px;top:0px;width:97px;height:48px;background:#ebe5d7;border-radius:0;filter:blur(1.5px);"></div><div class="a" style="left:138px;top:48px;width:97px;height:87px;background:#e0d9c8;border-radius:0;filter:blur(1.5px);"></div><div class="a" style="left:136px;top:0px;width:2.5px;height:92px;background:#d6cfbe;border-radius:0;filter:blur(1px);"></div><div class="a" style="left:183px;top:92px;width:52px;height:43px;background:#6e5a44;border-radius:0;filter:blur(0.5px);"></div><div class="a" style="left:184.5px;top:93.5px;width:52px;height:43px;background:#b08a62;border-radius:0;filter:blur(0.5px);"></div><div class="a" style="left:60px;top:122px;width:106px;height:30px;background:#4a4438;border-radius:40% 40% 0 0;filter:blur(2px);"></div><div class="a" style="left:79px;top:52px;width:67px;height:73px;background:#c49a84;border-radius:45%;filter:blur(2.5px);"></div><div class="a" style="left:96px;top:70px;width:34px;height:36px;background:#d0aa94;border-radius:50%;filter:blur(5px);"></div><div class="a" style="left:81px;top:31px;width:62px;height:30px;background:#453628;border-radius:50% 50% 30% 30%;filter:blur(2.5px);"></div><div class="a" style="left:80px;top:45px;width:12px;height:22px;background:#4a3a2c;border-radius:40%;filter:blur(2px);"></div><div class="a" style="left:133px;top:45px;width:11px;height:22px;background:#4a3a2c;border-radius:40%;filter:blur(2px);"></div><div class="a" style="left:83px;top:77px;width:28px;height:18px;border:2.2px solid rgba(30,26,26,.85);border-radius:7px 7px 9px 9px;filter:blur(.4px)"></div><div class="a" style="left:113px;top:77px;width:28px;height:18px;border:2.2px solid rgba(30,26,26,.85);border-radius:7px 7px 9px 9px;filter:blur(.4px)"></div></div>
<div class="nm" style="left:1560px;top:934.7px;color:#f8f8f8">Yuto WATAHIKI</div>
<div class="mo" style="left:1723px;top:825px;background:rgba(110,106,100,.6)"></div><svg class="a" style="left:1729px;top:831px" width="22" height="22" viewBox="0 0 24 24"><path fill="#fff" d="M19 11h-1.7c0 .74-.16 1.43-.43 2.05l1.23 1.23c.56-.98.9-2.09.9-3.28zm-4.02.17c0-.06.02-.11.02-.17V5c0-1.66-1.34-3-3-3S9 3.34 9 5v.18l5.98 5.99zM4.27 3L3 4.27l6.01 6.01V11c0 1.66 1.33 3 2.99 3 .22 0 .44-.03.65-.08l1.66 1.66c-.71.33-1.5.52-2.31.52-2.76 0-5.3-2.1-5.3-5.1H5c0 3.41 2.72 6.23 6 6.72V21h2v-3.28c.91-.13 1.77-.45 2.54-.9L19.73 21 21 19.73 4.27 3z"/></svg>
<div class="a" style="left:33px;top:1014.5px;font-size:21.5px;line-height:24px;letter-spacing:-1.7px;-webkit-text-stroke:0.35px #fff;white-space:nowrap">16:15</div>
<div class="a" style="left:96px;top:1016px;width:1.6px;height:22px;background:#bdc1c6"></div>
<div class="a" style="left:113px;top:1015px;font-size:22px;line-height:24px;letter-spacing:0.9px;-webkit-text-stroke:0.35px #fff;white-space:nowrap">pnw-ecwj-pem</div>
<div class="a" style="left:585px;top:994px;width:100px;height:65px;border-radius:17px 0 0 17px;background:#601410"></div>
<svg class="a" style="left:604px;top:1018px" width="22" height="16" viewBox="0 0 22 16"><path d="M4 12l7-6.5 7 6.5" stroke="#f9dedc" stroke-width="2" fill="none"/></svg>
<div class="a" style="left:636px;top:993px;width:67px;height:67px;border-radius:19px;background:#f9dedc;border:1.5px solid #1b1b1b"></div>
<svg class="a" style="left:653px;top:1010px" width="32" height="32" viewBox="0 0 32 32">
<g fill="none" stroke="#601410" stroke-width="2.1" stroke-linecap="butt">
<path d="M7.5 21.5a9 9 0 0 0 14.5 1.5"/><path d="M16 26v5"/><path d="M23.5 19.6l0.6-1.8"/>
</g>
<path d="M13 9a3 3 0 0 1 6 0v7l-6-6z" fill="#601410"/><path d="M13 14l5.3 5.3a3 3 0 0 1-5.3-1.8z" fill="#601410"/>
<path d="M5.2 5.8l21.5 21.5" stroke="#601410" stroke-width="2.2"/>
</svg>
<div class="a" style="left:712px;top:994px;width:117px;height:65px;border-radius:33px;background:#2b2d30"></div>
<svg class="a" style="left:731px;top:1018px" width="22" height="16" viewBox="0 0 22 16"><path d="M4.5 12l6.5-6 6.5 6" stroke="#9aa0a6" stroke-width="1.8" fill="none"/></svg>
<div class="a" style="left:765px;top:994px;width:64px;height:65px;border-radius:33px;background:#37393c"></div>
<svg class="a" style="left:781px;top:1012px" width="34" height="30" viewBox="0 0 34 30">
<rect x="4.3" y="5.3" width="19.5" height="19" rx="2.6" fill="none" stroke="#fff" stroke-width="3"/>
<path d="M24 12.5l6.5-5v15l-6.5-5z" fill="#fff"/>
</svg>
<div class="a" style="left:840px;top:994px;width:74px;height:65px;border-radius:33px;background:#37393c"></div>
<svg class="a" style="left:850px;top:1000px" width="50" height="50" viewBox="850 1000 50 50">
<rect x="866" y="1017" width="22.6" height="20.2" rx="2" fill="none" stroke="#fff" stroke-width="2.6"/>
<path d="M868.5 1020.2H886M868.5 1034H886" stroke="#9a9a9a" stroke-width="1.1"/>
<path d="M876.6 1023.6H872.6Q870.6 1023.6 870.6 1025.6V1027.6Q870.6 1029.6 872.6 1029.6H876.6M884.4 1023.6H880.4Q878.4 1023.6 878.4 1025.6V1027.6Q878.4 1029.6 880.4 1029.6H884.4" fill="none" stroke="#fff" stroke-width="2.5"/>
</svg>
<div class="a" style="left:925px;top:994px;width:75px;height:65px;border-radius:33px;background:#37393c"></div>
<svg class="a" style="left:946px;top:1010px" width="32" height="32" viewBox="0 0 32 32">
<circle cx="16" cy="16" r="12.4" fill="none" stroke="#fff" stroke-width="2.6"/>
<circle cx="11.6" cy="12.8" r="2" fill="#fff"/><circle cx="20.4" cy="12.8" r="2" fill="#fff"/>
<path d="M9.6 18.5h12.8a6.4 6.4 0 0 1-12.8 0z" fill="#fff"/>
</svg>
<div class="a" style="left:1011px;top:994px;width:74px;height:65px;border-radius:33px;background:#37393c"></div>
<svg class="a" style="left:1032px;top:1011px" width="32" height="32" viewBox="0 0 32 32">
<rect x="2.3" y="4.6" width="27.4" height="22" rx="1.6" fill="none" stroke="#fff" stroke-width="2.7"/>
<path d="M16 10.5l-5 5h3.4v4.2h3.2v-4.2H21z" fill="#fff"/>
</svg>
<div class="a" style="left:1096px;top:994px;width:75px;height:65px;border-radius:33px;background:#37393c"></div>
<svg class="a" style="left:1110px;top:1000px" width="50" height="50" viewBox="1110 1000 50 50">
<g fill="none" stroke="#fff" stroke-width="2.4" stroke-linejoin="round" stroke-linecap="round">
<path d="M1145 1016.5V1032C1145 1038 1141 1041.5 1136 1041.5C1132 1041.5 1129.5 1039.5 1127.8 1036.5L1122 1027.8A1.9 1.9 0 0 1 1125 1025.4L1129 1030.5V1016"/>
<path d="M1129 1016a1.9 1.9 0 0 1 3.8 0V1027M1132.8 1013a2.1 2.1 0 0 1 4.2 0V1027M1137 1014a2 2 0 0 1 4 0V1027M1141 1016.5a2 2 0 0 1 4 0"/>
<path d="M1129 1027.3H1145"/>
</g>
</svg>
<div class="a" style="left:1181px;top:994px;width:48px;height:65px;border-radius:33px;background:#37393c"></div>
<div class="a" style="left:1202.1px;top:1015.6px;width:5.8px;height:5.8px;border-radius:50%;background:#fff"></div>
<div class="a" style="left:1202.1px;top:1023.6px;width:5.8px;height:5.8px;border-radius:50%;background:#fff"></div>
<div class="a" style="left:1202.1px;top:1031.6px;width:5.8px;height:5.8px;border-radius:50%;background:#fff"></div>
<div class="a" style="left:1240px;top:994px;width:96px;height:65px;border-radius:33px;background:#e2392e"></div>
<svg class="a" style="left:1263px;top:1005px" width="50" height="45" viewBox="1263 1005 50 45">
<path d="M1276.5 1028.5Q1288 1018 1299.5 1028.5" stroke="#fff" stroke-width="3.3" fill="none"/>
<g transform="translate(1277 1028.8) rotate(-30)"><rect x="-4" y="-2.8" width="8" height="5.6" rx="1.5" fill="#fff"/><path d="M-1.6 0H1.6" stroke="#6a2a22" stroke-width="1"/></g>
<g transform="translate(1299 1028.8) rotate(30)"><rect x="-4" y="-2.8" width="8" height="5.6" rx="1.5" fill="#fff"/><path d="M-1.6 0H1.6" stroke="#6a2a22" stroke-width="1"/></g>
</svg>
<svg class="a" style="left:1650px;top:975px" width="250" height="80" viewBox="1650 975 250 80">
<circle cx="1680" cy="1026.4" r="12.3" fill="none" stroke="#fff" stroke-width="2.7"/>
<circle cx="1680" cy="1019.8" r="1.9" fill="#fff"/><rect x="1678.3" y="1023" width="3.4" height="8.6" fill="#fff"/>
<rect x="1745" y="982" width="35" height="27.5" rx="13.75" fill="#5f6368"/>
<circle cx="1740" cy="1021.1" r="3.7" fill="none" stroke="#fff" stroke-width="3.3"/>
<path d="M1730.5 1036.6v-1.4c0-3.5 5.3-5.5 9.5-5.5s9.5 2 9.5 5.5v1.4z" fill="none" stroke="#fff" stroke-width="3.3" stroke-linejoin="round"/>
<path d="M1745.16 1016.98A5.3 5.3 0 1 1 1745.16 1025.22A6.6 6.6 0 0 0 1745.16 1016.98z" fill="#fff"/>
<path d="M1752 1028.7c4.4.7 7.4 2.7 7.4 5.7v3.6h-6v-3.6c0-2.4-.6-4.2-1.4-5.7z" fill="#fff"/>
<path d="M1795 1038.5v-22.5a2 2 0 0 1 2-2h23a2 2 0 0 1 2 2v16.5a2 2 0 0 1-2 2h-21z" fill="none" stroke="#fff" stroke-width="2.7" stroke-linejoin="round"/>
<path d="M1799.5 1019.5h17M1799.5 1024.3h17M1799.5 1029h11" stroke="#fff" stroke-width="2.3"/>
<path d="M1872.2 1015.5l-6 9.8h12z" fill="none" stroke="#fff" stroke-width="2.6" stroke-linejoin="miter"/>
<rect x="1860.3" y="1029.5" width="9.5" height="9.5" fill="none" stroke="#fff" stroke-width="2.6"/>
<circle cx="1879.3" cy="1034.3" r="5" fill="none" stroke="#fff" stroke-width="2.6"/>
</svg>
<div class="a" style="left:1745px;top:987px;width:35px;text-align:center;font-size:15.5px;line-height:18px;-webkit-text-stroke:0.3px #fff;color:#fff">16</div>

</body></html>
